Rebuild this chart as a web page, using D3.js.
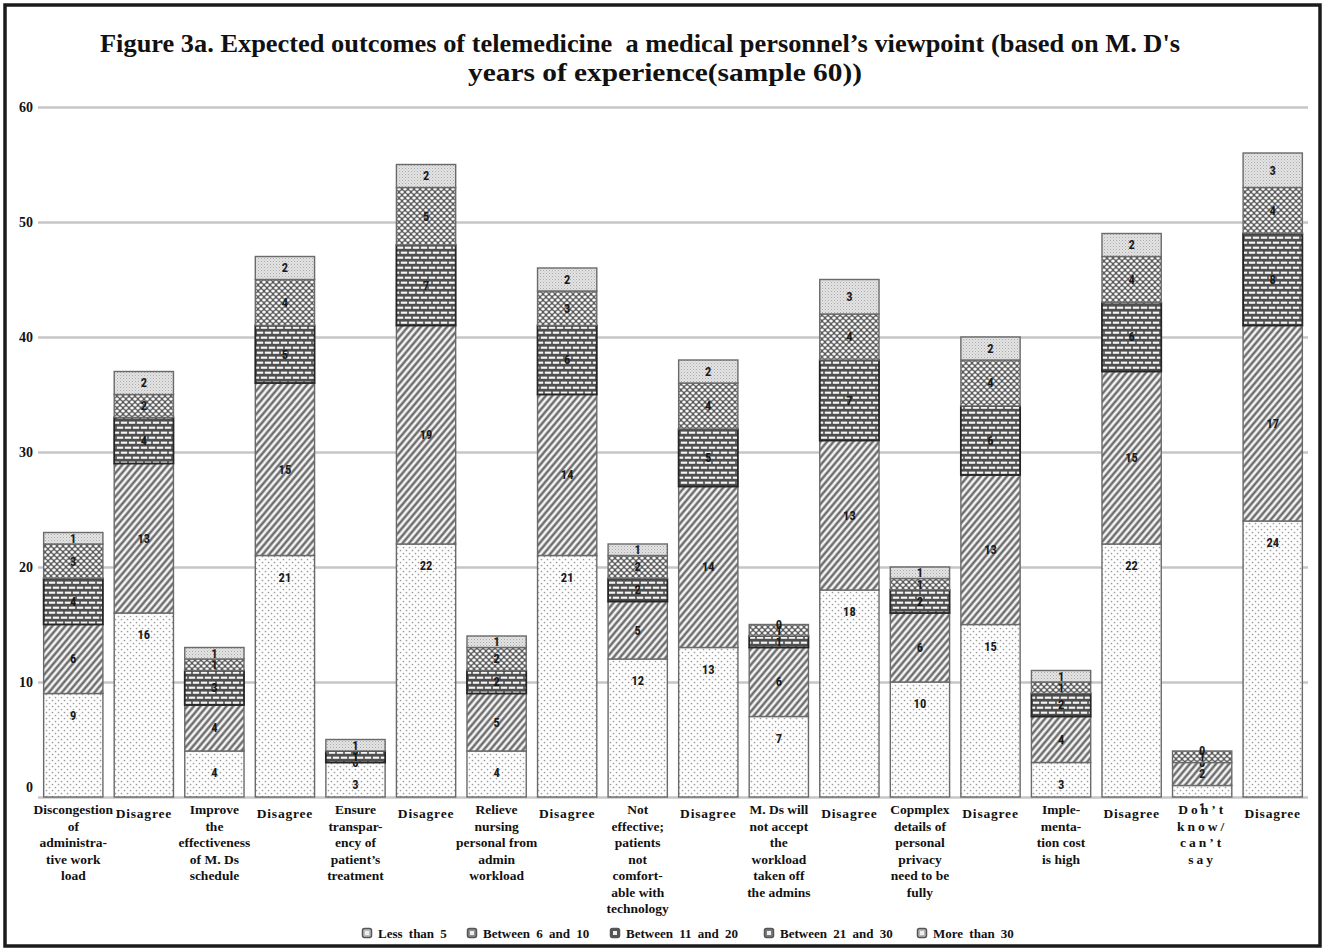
<!DOCTYPE html>
<html>
<head>
<meta charset="utf-8">
<script src="https://cdn.jsdelivr.net/npm/d3@7/dist/d3.min.js"></script>
<style>
  html, body { margin: 0; padding: 0; background: #fff; }
  svg { display: block; }
  svg text { font-family: "Liberation Serif", "Times New Roman", Times, serif; font-weight: bold; fill: #111; }
  svg text.val { font-family: "Roboto Condensed", "Liberation Sans Narrow", sans-serif; fill: #1a1a1a; }
</style>
</head>
<body>
<svg id="chart" width="1324" height="949"></svg>
<script>
// Response categories (each statement followed by its "Disagree" bar)
const categories = [
  "Discongestion\nof\nadministra-\ntive work\nload",
  "Disagree",
  "Improve\nthe\neffectiveness\nof M. Ds\nschedule",
  "Disagree",
  "Ensure\ntranspar-\nency of\npatient’s\ntreatment",
  "Disagree",
  "Relieve\nnursing\npersonal from\nadmin\nworkload",
  "Disagree",
  "Not\neffective;\npatients\nnot\ncomfort-\nable with\ntechnology",
  "Disagree",
  "M. Ds will\nnot accept\nthe\nworkload\ntaken off\nthe admins",
  "Disagree",
  "Copmplex\ndetails of\npersonal\nprivacy\nneed to be\nfully",
  "Disagree",
  "Imple-\nmenta-\ntion cost\nis high",
  "Disagree",
  "Don’t\nknow/\ncan’t\nsay",
  "Disagree"
];

// Years of experience groups
const seriesNames = ["Less than 5", "Between 6 and 10", "Between 11 and 20", "Between 21 and 30", "More than 30"];

// Number of respondents per group
const lessThan5       = [9, 16, 4, 21, 3, 22, 4, 21, 12, 13, 7, 18, 10, 15, 3, 22, 1, 24];
const between6and10   = [6, 13, 4, 15, 0, 19, 5, 14, 5, 14, 6, 13, 6, 13, 4, 15, 2, 17];
const between11and20  = [4, 4, 3, 5, 1, 7, 2, 6, 2, 5, 1, 7, 2, 6, 2, 6, 0, 8];
const between21and30  = [3, 2, 1, 4, 0, 5, 2, 3, 2, 4, 1, 4, 1, 4, 1, 4, 1, 4];
const moreThan30      = [1, 2, 1, 2, 1, 2, 1, 2, 1, 2, 0, 3, 1, 2, 1, 2, 0, 3];

const yTicks = [0, 10, 20, 30, 40, 50, 60];

const titleLine1 = "Figure 3a. Expected outcomes of telemedicine  a medical personnel’s viewpoint (based on M. D's";
const titleLine2 = "years of experience(sample 60))";

// ---------------------------------------------------------------
const seriesValues = [lessThan5, between6and10, between11and20, between21and30, moreThan30];
const rows = categories.map((c, i) => {
  const r = { idx: i };
  seriesNames.forEach((s, k) => { r[s] = seriesValues[k][i]; });
  return r;
});

const svg = d3.select("#chart");
const W = 1324, H = 949;

svg.append("rect").attr("width", W).attr("height", H).attr("fill", "#fff");

// ---- fill patterns for the five groups ----
const defs = svg.append("defs");

const pDots = defs.append("pattern").attr("id", "pat0")
  .attr("patternUnits", "userSpaceOnUse").attr("width", 6).attr("height", 6);
pDots.append("rect").attr("width", 6).attr("height", 6).attr("fill", "#fdfdfd");
[[1.5, 1.5], [4.5, 4.5]].forEach(([cx, cy]) =>
  pDots.append("circle").attr("cx", cx).attr("cy", cy).attr("r", 0.85).attr("fill", "#9c9c9c"));

const pHatch = defs.append("pattern").attr("id", "pat1")
  .attr("patternUnits", "userSpaceOnUse").attr("width", 5).attr("height", 5)
  .attr("patternTransform", "rotate(40)");
pHatch.append("rect").attr("width", 5).attr("height", 5).attr("fill", "#f4f4f4");
pHatch.append("rect").attr("x", 1.4).attr("y", 0).attr("width", 2.2).attr("height", 5).attr("fill", "#5e5e5e");

const pBrick = defs.append("pattern").attr("id", "pat2")
  .attr("patternUnits", "userSpaceOnUse").attr("width", 8).attr("height", 10);
pBrick.append("rect").attr("width", 8).attr("height", 10).attr("fill", "#4e4e4e");
[[0.8, 1.6], [-3.2, 6.6], [4.8, 6.6]].forEach(([bx, by]) =>
  pBrick.append("rect").attr("x", bx).attr("y", by).attr("width", 6.4).attr("height", 2.2).attr("fill", "#f4f4f4"));

const pCross = defs.append("pattern").attr("id", "pat3")
  .attr("patternUnits", "userSpaceOnUse").attr("width", 6).attr("height", 6);
pCross.append("rect").attr("width", 6).attr("height", 6).attr("fill", "#5c5c5c");
[[0, 0], [6, 0], [0, 6], [6, 6], [3, 3]].forEach(([cx, cy]) =>
  pCross.append("ellipse").attr("cx", cx).attr("cy", cy).attr("rx", 1.8).attr("ry", 1.5).attr("fill", "#f6f6f6"));

const pLight = defs.append("pattern").attr("id", "pat4")
  .attr("patternUnits", "userSpaceOnUse").attr("width", 3).attr("height", 3);
pLight.append("rect").attr("width", 3).attr("height", 3).attr("fill", "#e3e3e3");
pLight.append("rect").attr("x", 0).attr("y", 0).attr("width", 1).attr("height", 1).attr("fill", "#ababab");
pLight.append("rect").attr("x", 1.5).attr("y", 1.5).attr("width", 1).attr("height", 1).attr("fill", "#c2c2c2");

const fillFor = k => `url(#pat${k})`;
const legendShade = ["#bdbdbd", "#8d8d8d", "#555555", "#7a7a7a", "#b5b5b5"];

// ---- frame ----
svg.append("rect").attr("x", 5).attr("y", 5).attr("width", W - 9).attr("height", H - 8)
  .attr("fill", "none").attr("stroke", "#1b1b1b").attr("stroke-width", 3.5);

// ---- title ----
svg.append("text").attr("x", 100).attr("y", 52)
  .attr("textLength", 1080).attr("lengthAdjust", "spacingAndGlyphs")
  .style("white-space", "pre").style("font-size", "26px")
  .text(titleLine1);
svg.append("text").attr("x", 468).attr("y", 81)
  .attr("textLength", 394).attr("lengthAdjust", "spacingAndGlyphs")
  .style("font-size", "26px")
  .text(titleLine2);

// ---- scales ----
const x = d3.scaleBand().domain(d3.range(categories.length))
  .range([38, 1308]).paddingInner(0.16).paddingOuter(0.08);
const y = d3.scaleLinear().domain([0, 60]).range([797, 107]);

// ---- y axis with gridlines ----
const yAxis = svg.append("g").attr("transform", "translate(38,0)")
  .call(d3.axisLeft(y).tickValues(yTicks).tickSize(-1270).tickPadding(5).tickFormat(d3.format("d")));
yAxis.select(".domain").remove();
yAxis.attr("font-family", null).attr("font-size", null);
yAxis.selectAll(".tick line").attr("stroke", "#c6c6c6").attr("stroke-width", 2.5);
yAxis.selectAll(".tick text")
  .style("font-size", "14px")
  .attr("fill", null)
  .attr("dy", d => d === 0 ? "-0.4em" : "0.32em");

// ---- stacked bars ----
const stacked = d3.stack().keys(seriesNames)(rows);

const layers = svg.append("g").selectAll("g.layer").data(stacked).join("g").attr("class", "layer");
layers.each(function (layer, k) {
  d3.select(this).selectAll("rect").data(layer).join("rect")
    .attr("x", (d, i) => x(i))
    .attr("width", x.bandwidth())
    .attr("y", d => y(d[1]))
    .attr("height", d => y(d[0]) - y(d[1]))
    .attr("fill", fillFor(k))
    .attr("stroke", k === 2 ? "#262626" : "#6a6a6a")
    .attr("stroke-width", k === 2 ? 1.8 : 1.4);
});

// ---- value labels (first group sits just under its top edge, others centred) ----
layers.each(function (layer, k) {
  d3.select(this).selectAll("text").data(layer).join("text")
    .attr("class", "val")
    .attr("x", (d, i) => x(i) + x.bandwidth() / 2)
    .attr("y", d => k === 0 ? y(d[1]) + 22 : (y(d[0]) + y(d[1])) / 2)
    .attr("dy", "0.35em")
    .attr("text-anchor", "middle")
    .style("font-size", "12.5px")
    .text(d => d[1] - d[0]);
});

// ---- category labels ----
const spacingFor = lbl => lbl === "Disagree" ? 0.8 : (lbl.startsWith("Don") ? 3 : 0);
const xl = svg.append("g");
categories.forEach((lbl, i) => {
  const first = lbl === "Disagree" ? 818 : 814;
  const t = xl.append("text")
    .attr("text-anchor", "middle")
    .style("font-size", "13.5px")
    .attr("letter-spacing", spacingFor(lbl));
  lbl.split("\n").forEach((line, j) => {
    t.append("tspan").attr("x", x(i) + x.bandwidth() / 2).attr("y", first + j * 16.5).text(line);
  });
});

// ---- legend ----
const legendIconX = [367, 472, 615, 769, 922];
const lg = svg.append("g");
seriesNames.forEach((s, k) => {
  lg.append("rect").attr("x", legendIconX[k] - 4.5).attr("y", 928.5).attr("width", 9).attr("height", 9)
    .attr("rx", 2).attr("fill", legendShade[k]).attr("stroke", "#555").attr("stroke-width", 1.5);
  lg.append("rect").attr("x", legendIconX[k] - 2).attr("y", 931).attr("width", 4).attr("height", 4)
    .attr("fill", "#eee");
  lg.append("text").attr("x", legendIconX[k] + 11).attr("y", 937.5)
    .style("font-size", "13px")
    .attr("word-spacing", 3).text(s);
});
</script>
</body>
</html>
